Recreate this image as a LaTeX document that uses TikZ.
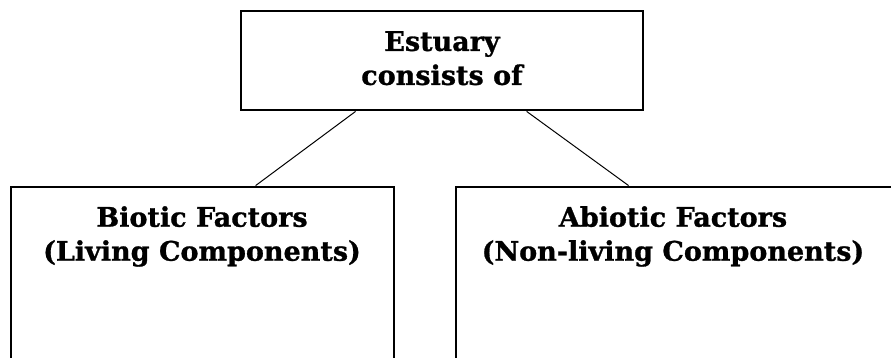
\documentclass[tikz,border=0pt]{standalone}
\usepackage{fontspec}
\setmainfont[BoldFeatures={FakeBold=1}]{DejaVu Serif}
\begin{document}
\begin{tikzpicture}[x=1pt,y=-1pt,
  box/.style={draw=black,line width=2.8pt,fill=none,inner sep=0pt,rectangle},
  lbl/.style={font=\fontsize{27}{34}\selectfont\bfseries,align=center,inner sep=0pt,anchor=north},
  link/.style={draw=black,line width=1pt}]
\useasboundingbox (0,0) rectangle (891,358);
\clip (0,0) rectangle (891,358);
\node[box,minimum width=402pt,minimum height=99pt] (top) at (442,60.5) {};
\node[box,minimum width=383pt,minimum height=213pt] (left) at (202.5,293.5) {};
\node[box,minimum width=440pt,minimum height=213pt] (right) at (676,293.5) {};
\node[lbl] (ttop) at (442,31) {Estuary\\consists of};
\node[lbl] (tleft) at (202,206) {Biotic Factors\\(Living Components)};
\node[lbl] (tright) at (673,206) {Abiotic Factors\\(Non-living Components)};
\draw[link] ([xshift=116pt]top.south west) -- ([xshift=246pt]left.north west);
\draw[link] ([xshift=287pt]top.south west) -- ([xshift=174pt]right.north west);
\end{tikzpicture}
\end{document}
